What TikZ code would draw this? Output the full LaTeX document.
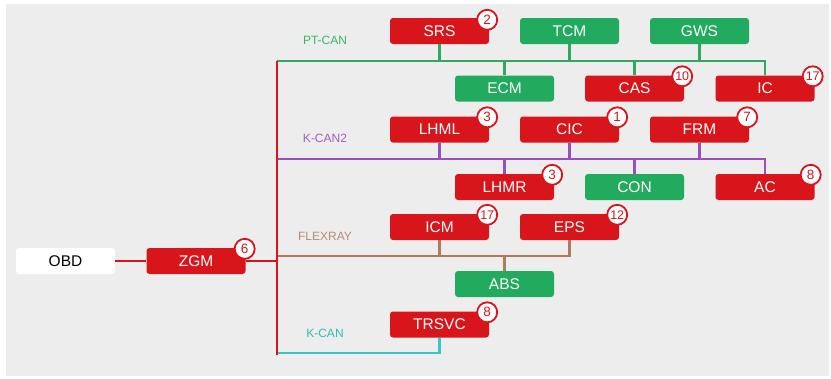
\documentclass[tikz,border=0pt]{standalone}
\usepackage{fontspec}
\setmainfont{Liberation Sans}
\definecolor{boxred}{HTML}{D7151B}
\definecolor{boxgreen}{HTML}{22AA5E}
\definecolor{panel}{HTML}{EDEDED}
\definecolor{busgreen}{HTML}{2EAA5C}
\definecolor{buspurple}{HTML}{9B4DC2}
\definecolor{busbrown}{HTML}{B07B58}
\definecolor{buscyan}{HTML}{35C6C6}
\definecolor{lblgreen}{HTML}{3DB36A}
\definecolor{lblpurple}{HTML}{A25CC2}
\definecolor{lblbrown}{HTML}{BA8C6E}
\definecolor{lblcyan}{HTML}{30BABD}
\tikzset{
  ecu/.style={rounded corners=3pt, minimum width=99pt, minimum height=26pt,
    inner sep=0pt, text=white, font=\fontsize{15.5}{15.5}\selectfont},
  redbox/.style={ecu, fill=boxred},
  greenbox/.style={ecu, fill=boxgreen},
  whitebox/.style={ecu, fill=white, text=black},
  badge/.style={circle, draw=boxred, line width=1.8pt, fill=white, text=boxred,
    minimum size=20pt, inner sep=0pt, font=\fontsize{13.5}{13.5}\selectfont},
  badgetwo/.style={badge, font=\fontsize{12.5}{12.5}\selectfont},
  buslabel/.style={font=\fontsize{12}{12}\selectfont},
  bus/.style={line width=2.5pt},
  trunk/.style={line width=2.8pt, draw=boxred},
}
\begin{document}
\begin{tikzpicture}[x=1pt,y=-1pt]
  \useasboundingbox (0,0) rectangle (831,378);
  \fill[white] (0,0) rectangle (831,378);
  \fill[panel] (6,4) rectangle (829,376);

  % ECU boxes
  \node[redbox]   (srs)   at (439.5,31)   {SRS};
  \node[greenbox] (tcm)   at (569.5,31)   {TCM};
  \node[greenbox] (gws)   at (699.5,31)   {GWS};
  \node[greenbox] (ecm)   at (504.5,88.5) {ECM};
  \node[redbox]   (cas)   at (634.5,88.5) {CAS};
  \node[redbox]   (ic)    at (765,88.5)   {IC};
  \node[redbox]   (lhml)  at (439.5,129.5){LHML};
  \node[redbox]   (cic)   at (569.5,129.5){CIC};
  \node[redbox]   (frm)   at (699.5,129.5){FRM};
  \node[redbox]   (lhmr)  at (504.5,187)  {LHMR};
  \node[greenbox] (con)   at (634.5,187)  {CON};
  \node[redbox]   (ac)    at (765,187)    {AC};
  \node[redbox]   (icm)   at (439.5,227)  {ICM};
  \node[redbox]   (eps)   at (569.5,227)  {EPS};
  \node[greenbox] (abs)   at (504.5,284)  {ABS};
  \node[redbox]   (trsvc) at (439.5,324.5){TRSVC};
  \node[redbox]   (zgm)   at (196,261)    {ZGM};
  \node[whitebox] (obd)   at (65.5,261)   {OBD};

  % bus labels
  \node[buslabel, text=lblgreen]  (lptcan)  at (325,40)  {PT-CAN};
  \node[buslabel, text=lblpurple] (lkcan2)  at (325,138) {K-CAN2};
  \node[buslabel, text=lblbrown]  (lflex)   at (325,236) {FLEXRAY};
  \node[buslabel, text=lblcyan]   (lkcan)   at (325,333) {K-CAN};

  % bus anchor points on the trunk
  \coordinate (pt0) at (277,61);
  \coordinate (kc20) at (277,159);
  \coordinate (fx0) at (277,256);
  \coordinate (kc0) at (277,353);
  \coordinate (trunkend) at (277,355);

  % PT-CAN
  \draw[bus, busgreen] (pt0) -- (pt0 -| ic.north) -- (ic.north);
  \foreach \n in {srs,tcm,gws} \draw[bus, busgreen] (\n.south) -- (\n.south |- pt0);
  \foreach \n in {ecm,cas} \draw[bus, busgreen] (\n.north) -- (\n.north |- pt0);

  % K-CAN2
  \draw[bus, buspurple] (kc20) -- (kc20 -| ac.north) -- (ac.north);
  \foreach \n in {lhml,cic,frm} \draw[bus, buspurple] (\n.south) -- (\n.south |- kc20);
  \foreach \n in {lhmr,con} \draw[bus, buspurple] (\n.north) -- (\n.north |- kc20);

  % FlexRay
  \draw[bus, busbrown] (fx0) -- (fx0 -| eps.south) -- (eps.south);
  \draw[bus, busbrown] (icm.south) -- (icm.south |- fx0);
  \draw[bus, busbrown] (abs.north) -- (abs.north |- fx0);

  % K-CAN
  \draw[bus, buscyan] (kc0) -- (kc0 -| trsvc.south) -- (trsvc.south);

  % gateway trunk
  \draw[trunk] (pt0) -- (trunkend);
  \draw[trunk] (zgm.east) -- (zgm.east -| pt0);
  \draw[trunk] (obd.east) -- (zgm.west);

  % fault count badges
  \node[badge]    (bsrs)   at ([xshift=-2pt,yshift=-2pt]srs.north east)   {2};
  \node[badgetwo] (bcas)   at ([xshift=-2pt,yshift=-1pt]cas.north east)   {10};
  \node[badgetwo] (bic)    at ([xshift=-2pt,yshift=-1pt]ic.north east)    {17};
  \node[badge]    (blhml)  at ([xshift=-2pt,yshift=-1pt]lhml.north east)  {3};
  \node[badge]    (bcic)   at ([xshift=-2pt,yshift=-1pt]cic.north east)   {1};
  \node[badge]    (bfrm)   at ([xshift=-2pt,yshift=-1pt]frm.north east)   {7};
  \node[badge]    (blhmr)  at ([xshift=-2pt,yshift=-1pt]lhmr.north east)  {3};
  \node[badge]    (bac)    at ([xshift=-4pt,yshift=-1pt]ac.north east)    {8};
  \node[badgetwo] (bicm)   at ([xshift=-2pt,yshift=-1pt]icm.north east)   {17};
  \node[badgetwo] (beps)   at ([xshift=-2pt,yshift=-1pt]eps.north east)   {12};
  \node[badge]    (btrsvc) at ([xshift=-2pt,yshift=-1pt]trsvc.north east) {8};
  \node[badge]    (bzgm)   at ([xshift=-1pt,yshift=-1pt]zgm.north east)   {6};
\end{tikzpicture}
\end{document}
